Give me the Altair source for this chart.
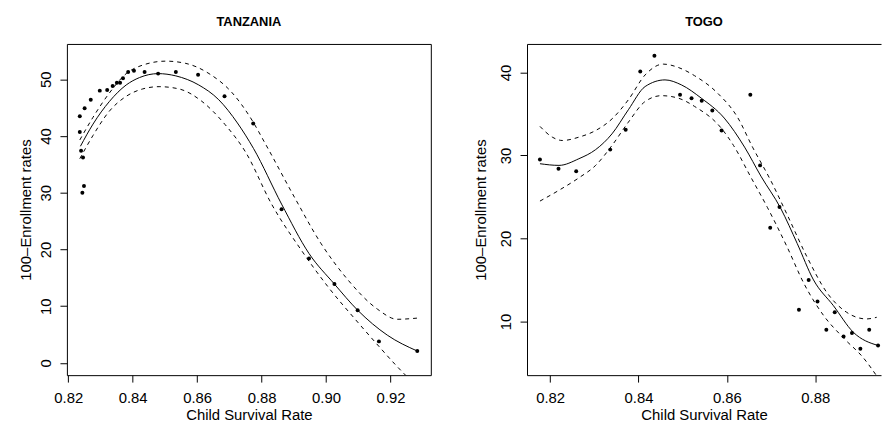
import altair as alt
import pandas as pd

FONT = "Liberation Sans"

# ---------------- TANZANIA ----------------
TZ_PTS_X = [0.8236, 0.8251, 0.8270, 0.8298, 0.8321, 0.8338, 0.8351, 0.8361, 0.8370, 0.8386,
            0.8404, 0.8437, 0.8479, 0.8534, 0.8603, 0.8685, 0.8774, 0.8236, 0.8240, 0.8246,
            0.8249, 0.8244, 0.8862, 0.8947, 0.9026, 0.9098, 0.9164, 0.9283]
TZ_PTS_Y = [43.5, 44.9, 46.4, 48.0, 48.1, 48.8, 49.4, 49.4, 50.2, 51.3,
            51.5, 51.3, 51.0, 51.3, 50.8, 47.0, 42.2, 40.7, 37.4, 36.2,
            31.2, 30.0, 27.1, 18.4, 13.9, 9.3, 3.8, 2.1]

TZ_FIT_X = [0.8238, 0.8277, 0.8328, 0.8380, 0.8421, 0.8479, 0.8534, 0.8605, 0.8667, 0.8725,
            0.8775, 0.8862, 0.8947, 0.9026, 0.9098, 0.9190, 0.9283]
TZ_FIT_Y = [38.2, 42.1, 46.1, 49.0, 50.3, 51.0, 50.6, 49.0, 46.4, 42.3,
            37.8, 28.0, 19.3, 13.9, 9.3, 4.9, 2.1]

TZ_UP_X = [0.8236, 0.8277, 0.8328, 0.8380, 0.8431, 0.8503, 0.8565, 0.8637, 0.8709, 0.8768,
           0.8812, 0.8903, 0.8985, 0.9067, 0.9159, 0.9221, 0.9282]
TZ_UP_Y = [39.3, 43.3, 47.6, 51.0, 52.5, 53.2, 52.8, 51.0, 47.6, 43.0,
           38.6, 29.1, 21.0, 14.7, 9.5, 7.7, 7.9]

TZ_LO_X = [0.8236, 0.8277, 0.8328, 0.8380, 0.8431, 0.8482, 0.8544, 0.8615, 0.8687, 0.8750,
           0.8831, 0.8923, 0.9005, 0.9098, 0.9169, 0.9215, 0.9283]
TZ_LO_Y = [36.0, 40.1, 44.4, 47.0, 48.3, 48.7, 48.3, 46.1, 42.0, 37.2,
           28.0, 19.9, 13.5, 7.2, 2.6, -0.3, -4.2]

TZ_XTICKS = [0.82, 0.84, 0.86, 0.88, 0.90, 0.92]
TZ_YTICKS = [0, 10, 20, 30, 40, 50]

# ---------------- TOGO ----------------
TG_PTS_X = [0.8177, 0.8219, 0.8259, 0.8336, 0.8371, 0.8404, 0.8436, 0.8494, 0.8520, 0.8543,
            0.8567, 0.8588, 0.8653, 0.8675, 0.8719, 0.8698, 0.8785, 0.8763, 0.8805, 0.8844,
            0.8825, 0.8864, 0.8883, 0.8922, 0.8902, 0.8942]
TG_PTS_Y = [29.5, 28.4, 28.1, 30.7, 33.1, 40.1, 42.0, 37.3, 36.9, 36.6,
            35.4, 33.0, 37.3, 28.8, 23.8, 21.3, 15.0, 11.4, 12.4, 11.1,
            9.0, 8.2, 8.6, 9.0, 6.7, 7.1]

TG_FIT_X = [0.8177, 0.8220, 0.8265, 0.8303, 0.8340, 0.8377, 0.8415, 0.8460, 0.8497, 0.8542,
            0.8594, 0.8640, 0.8677, 0.8722, 0.8759, 0.8796, 0.8841, 0.8886, 0.8942]
TG_FIT_Y = [29.0, 28.8, 29.6, 30.7, 32.6, 35.5, 38.3, 39.1, 38.5, 36.9,
            34.5, 31.0, 27.5, 23.6, 19.4, 15.0, 11.9, 8.7, 7.1]

TG_UP_X = [0.8177, 0.8205, 0.8228, 0.8265, 0.8303, 0.8340, 0.8377, 0.8415, 0.8456, 0.8490,
           0.8527, 0.8579, 0.8624, 0.8658, 0.8699, 0.8736, 0.8781, 0.8826, 0.8871, 0.8916, 0.8939]
TG_UP_Y = [33.5, 32.2, 31.8, 32.2, 33.0, 34.4, 36.7, 39.7, 41.0, 40.6,
           39.6, 37.5, 34.6, 31.0, 27.0, 22.9, 17.8, 13.5, 11.1, 10.3, 10.5]

TG_LO_X = [0.8177, 0.8220, 0.8265, 0.8303, 0.8340, 0.8377, 0.8415, 0.8452, 0.8490, 0.8527,
           0.8587, 0.8615, 0.8654, 0.8692, 0.8736, 0.8774, 0.8819, 0.8864, 0.8909, 0.8942]
TG_LO_Y = [24.5, 25.8, 27.3, 28.8, 31.2, 34.0, 36.5, 37.2, 36.9, 35.9,
           33.3, 31.2, 27.4, 23.7, 19.0, 14.6, 10.7, 8.0, 5.6, 3.2]

TG_XTICKS = [0.82, 0.84, 0.86, 0.88]
TG_YTICKS = [10, 20, 30, 40]

X_TITLE = "Child Survival Rate"
Y_TITLE = "100\u2013Enrollment rates"


def axis_common(boxed):
    return dict(
        labelFont=FONT, labelFontSize=15, labelColor="black",
        titleFont=FONT, titleFontSize=15, titleFontWeight="normal", titleColor="black",
        tickColor="black", tickSize=7, tickWidth=1, grid=False,
        domain=not boxed, domainColor="black", domainWidth=1,
    )


def panel(name, px, py, fx, fy, ux, uy, lx, ly, xdom, ydom, xticks, yticks,
          width, height, boxed, ytitle_x):
    pts = pd.DataFrame({"x": px, "y": py})
    fit = pd.DataFrame({"x": fx, "y": fy})
    up = pd.DataFrame({"x": ux, "y": uy})
    lo = pd.DataFrame({"x": lx, "y": ly})

    xs = alt.Scale(domain=xdom, nice=False, zero=False)
    ys = alt.Scale(domain=ydom, nice=False, zero=False)

    xaxis = alt.Axis(values=xticks, format=".2f", title=X_TITLE, orient="bottom",
                     labelBaseline="middle", labelPadding=16,
                     titleY=40, titleBaseline="middle",
                     **axis_common(boxed))
    yaxis = alt.Axis(values=yticks, format="d", title=Y_TITLE, orient="left",
                     labelAngle=270, labelAlign="center", labelBaseline="middle", labelPadding=14.3,
                     titleAngle=270, titleX=ytitle_x, titleBaseline="middle",
                     **axis_common(boxed))

    points = alt.Chart(pts).mark_circle(size=16, color="black", opacity=1).encode(
        x=alt.X("x:Q", scale=xs, axis=xaxis),
        y=alt.Y("y:Q", scale=ys, axis=yaxis),
    )
    if boxed:
        fit_x = alt.X("x:Q", scale=xs, axis=xaxis)
        band_x = alt.X("x:Q", scale=xs, axis=xaxis)
    else:
        fit_x = alt.X("x:Q", scale=xs, axis=alt.Axis(orient="top", labels=False, ticks=False,
                                                     title=None, domain=True, domainColor="black",
                                                     domainWidth=1, grid=False))
        band_x = alt.X("x:Q", scale=xs, axis=None)
    yenc = alt.Y("y:Q", scale=ys, axis=yaxis)
    fit_line = alt.Chart(fit).mark_line(color="black", strokeWidth=1, clip=True,
                                        interpolate="monotone").encode(
        x=fit_x, y=yenc, order="x:Q")
    up_line = alt.Chart(up).mark_line(color="black", strokeWidth=1, strokeDash=[4, 4], clip=True,
                                      interpolate="monotone").encode(
        x=band_x, y=yenc, order="x:Q")
    lo_line = alt.Chart(lo).mark_line(color="black", strokeWidth=1, strokeDash=[4, 4], clip=True,
                                      interpolate="monotone").encode(
        x=band_x, y=yenc, order="x:Q")

    layer = alt.layer(points, fit_line, up_line, lo_line)
    if boxed:
        view = alt.ViewBackground(stroke="black", strokeWidth=1)
    else:
        view = alt.ViewBackground(stroke="transparent")
        layer = layer.resolve_axis(x="independent")
    return layer.properties(
        width=width, height=height, view=view,
        title=alt.TitleParams(text=name, font=FONT, fontSize=13, fontWeight="bold",
                              color="black", anchor="middle", frame="group",
                              baseline="alphabetic", offset=5.5),
    )


left = panel("TANZANIA", TZ_PTS_X, TZ_PTS_Y, TZ_FIT_X, TZ_FIT_Y, TZ_UP_X, TZ_UP_Y,
             TZ_LO_X, TZ_LO_Y, [0.8196, 0.9325], [-2.15, 56.23], TZ_XTICKS, TZ_YTICKS,
             367, 334, True, -41.6)
right = panel("TOGO", TG_PTS_X, TG_PTS_Y, TG_FIT_X, TG_FIT_Y, TG_UP_X, TG_UP_Y,
              TG_LO_X, TG_LO_Y, [0.81477, 0.89487], [3.53, 43.43], TG_XTICKS, TG_YTICKS,
              357, 334, False, -47.3)

chart = alt.hconcat(left, right, spacing=41).properties(
    padding={"left": 9.4, "top": 5.5, "right": 0, "bottom": -3},
    background="white",
)

chart.save("out.html", embed_options={"renderer": "svg", "actions": False})
